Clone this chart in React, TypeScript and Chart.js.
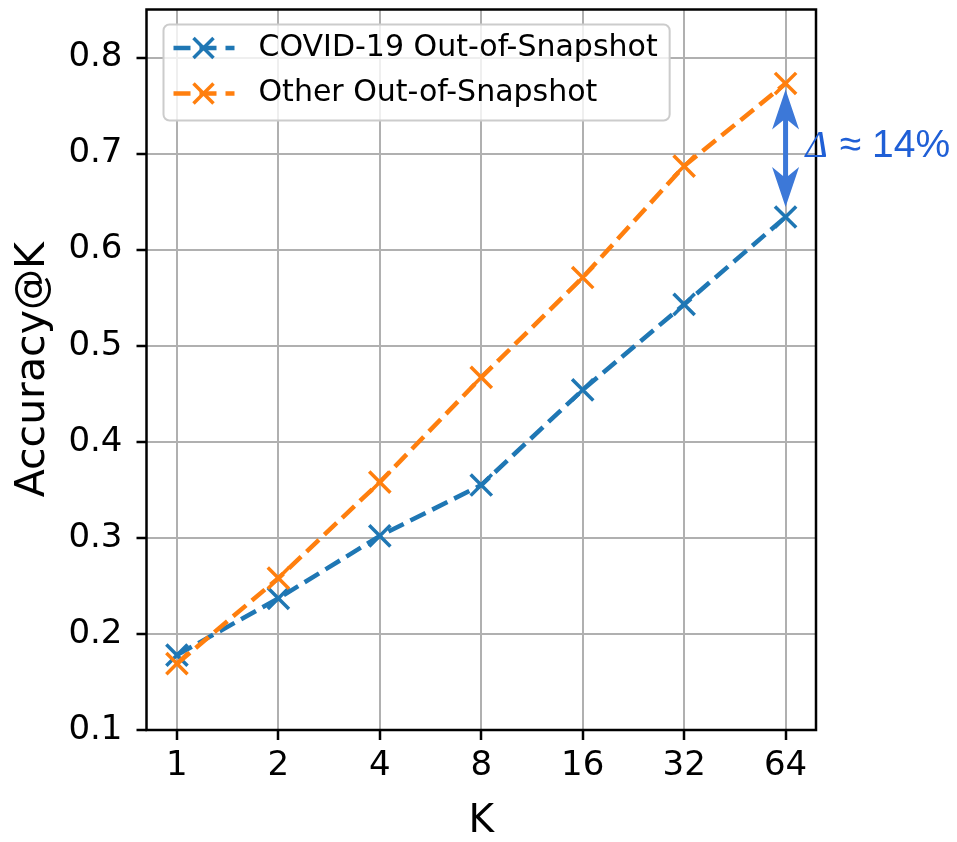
import { useEffect, useRef } from "react";
import { Chart, registerables } from "chart.js";

Chart.register(...registerables);

// ---- data ----
const kLabels = ["1", "2", "4", "8", "16", "32", "64"];
const covidAcc = [0.178, 0.237, 0.302, 0.355, 0.454, 0.543, 0.634];
const otherAcc = [0.169, 0.258, 0.358, 0.467, 0.571, 0.687, 0.773];
const yTicks = [0.1, 0.2, 0.3, 0.4, 0.5, 0.6, 0.7, 0.8];
const seriesNames = ["COVID-19 Out-of-Snapshot", "Other Out-of-Snapshot"];
const seriesColors = ["#1f77b4", "#ff7f0e"];
const deltaSymbol = "Δ";
const deltaLabel = "≈ 14%";
const xTitle = "K";
const yTitle = "Accuracy@K";

const FONT = "'DejaVu Sans', sans-serif";
const DASH = [17, 7.5];
const LINE_W = 4.5;

const decorPlugin = {
  id: "decor",
  afterDraw(chart: any) {
    const { ctx, chartArea: ca, scales } = chart;
    const xs = scales.x;
    const ys = scales.y;
    ctx.save();
    // spines
    ctx.strokeStyle = "#000";
    ctx.lineWidth = 2.5;
    ctx.setLineDash([]);
    ctx.strokeRect(ca.left, ca.top, ca.right - ca.left, ca.bottom - ca.top);

    // legend
    ctx.font = `30px ${FONT}`;
    const lx = ca.left + 17;
    const ly = ca.top + 15;
    const rowH = 45.5;
    const textX = lx + 95;
    let maxW = 0;
    seriesNames.forEach((n) => (maxW = Math.max(maxW, ctx.measureText(n).width)));
    const bw = textX - lx + maxW + 12;
    const bh = 96;
    const r = 6;
    ctx.beginPath();
    ctx.moveTo(lx + r, ly);
    ctx.lineTo(lx + bw - r, ly);
    ctx.arcTo(lx + bw, ly, lx + bw, ly + r, r);
    ctx.lineTo(lx + bw, ly + bh - r);
    ctx.arcTo(lx + bw, ly + bh, lx + bw - r, ly + bh, r);
    ctx.lineTo(lx + r, ly + bh);
    ctx.arcTo(lx, ly + bh, lx, ly + bh - r, r);
    ctx.lineTo(lx, ly + r);
    ctx.arcTo(lx, ly, lx + r, ly, r);
    ctx.closePath();
    ctx.fillStyle = "rgba(255,255,255,0.8)";
    ctx.fill();
    ctx.strokeStyle = "#cccccc";
    ctx.lineWidth = 2;
    ctx.stroke();
    seriesNames.forEach((name, i) => {
      const cy = ly + 23.5 + i * rowH;
      const col = seriesColors[i];
      ctx.strokeStyle = col;
      ctx.lineWidth = LINE_W;
      ctx.setLineDash([17, 9]);
      ctx.beginPath();
      ctx.moveTo(lx + 10, cy);
      ctx.lineTo(lx + 71, cy);
      ctx.stroke();
      ctx.setLineDash([]);
      const mx = lx + 40;
      const d = 10;
      ctx.lineWidth = 3.5;
      ctx.beginPath();
      ctx.moveTo(mx - d, cy - d);
      ctx.lineTo(mx + d, cy + d);
      ctx.moveTo(mx - d, cy + d);
      ctx.lineTo(mx + d, cy - d);
      ctx.stroke();
      ctx.fillStyle = "#000";
      ctx.textAlign = "left";
      ctx.textBaseline = "middle";
      ctx.fillText(name, textX, cy);
    });

    // delta annotation
    const n = kLabels.length - 1;
    const ax = xs.getPixelForValue(n);
    const yT = ys.getPixelForValue(otherAcc[n]) + 6;
    const yB = ys.getPixelForValue(covidAcc[n]) - 10;
    const hl = 40, hw = 13.5, notch = 9, sw = 5;
    ctx.fillStyle = "#3c78d8";
    ctx.beginPath();
    ctx.moveTo(ax, yT);
    ctx.lineTo(ax + hw, yT + hl);
    ctx.lineTo(ax + sw / 2, yT + hl - notch);
    ctx.lineTo(ax + sw / 2, yB - hl + notch);
    ctx.lineTo(ax + hw, yB - hl);
    ctx.lineTo(ax, yB);
    ctx.lineTo(ax - hw, yB - hl);
    ctx.lineTo(ax - sw / 2, yB - hl + notch);
    ctx.lineTo(ax - sw / 2, yT + hl - notch);
    ctx.lineTo(ax - hw, yT + hl);
    ctx.closePath();
    ctx.fill();
    ctx.fillStyle = "#1f5fd6";
    ctx.textAlign = "left";
    ctx.textBaseline = "alphabetic";
    const by = (yT + yB) / 2 + 9;
    ctx.font = `italic 38px 'Liberation Serif', serif`;
    const tx = ax + 20;
    ctx.fillText(deltaSymbol, tx, by);
    const dw = ctx.measureText(deltaSymbol).width;
    ctx.font = `39px 'Liberation Sans', Arial, sans-serif`;
    ctx.fillText(deltaLabel, tx + dw + 12, by);
    ctx.restore();
  },
};

export default function App() {
  const ref = useRef<HTMLCanvasElement | null>(null);
  useEffect(() => {
    if (!ref.current) return;
    const mk = (vals: number[]) => vals.map((v, i) => ({ x: i, y: v }));
    const ds = (i: number, vals: number[], order: number) => ({
      label: seriesNames[i],
      data: mk(vals),
      borderColor: seriesColors[i],
      backgroundColor: seriesColors[i],
      borderWidth: LINE_W,
      borderDash: DASH,
      pointStyle: "crossRot",
      pointRadius: 15,
      pointBorderWidth: 3.5,
      pointBorderColor: seriesColors[i],
      tension: 0,
      fill: false,
      order,
    });
    const chart = new Chart(ref.current, {
      type: "line",
      data: {
        datasets: [ds(0, covidAcc, 1), ds(1, otherAcc, 0)] as any,
      },
      options: {
        animation: false,
        responsive: false,
        devicePixelRatio: 1,
        layout: { autoPadding: false, padding: { top: 9.5, right: 141, left: 0, bottom: 0 } },
        plugins: {
          legend: { display: false },
          tooltip: { enabled: false },
        },
        scales: {
          x: {
            type: "linear",
            min: -0.3,
            max: kLabels.length - 1 + 0.3,
            afterBuildTicks: (s: any) => {
              s.ticks = kLabels.map((_, i) => ({ value: i }));
            },
            afterFit: (s: any) => {
              s.height = 112;
              s.paddingLeft = 0;
              s.paddingRight = 0;
            },
            ticks: {
              callback: (v: any) => kLabels[v as number] ?? "",
              font: { family: FONT, size: 34 },
              color: "#000",
              padding: 6,
              maxRotation: 0,
              autoSkip: false,
            },
            grid: {
              color: "#b0b0b0",
              lineWidth: 2,
              tickColor: "#000",
              tickWidth: 2.5,
              tickLength: 10,
            } as any,
            border: { display: false },
            title: {
              display: true,
              text: xTitle,
              font: { family: FONT, size: 39 },
              color: "#000",
              padding: { top: 0, bottom: -3 },
            },
          },
          y: {
            type: "linear",
            min: 0.1,
            max: 0.85,
            afterBuildTicks: (s: any) => {
              s.ticks = yTicks.map((v) => ({ value: v }));
            },
            afterFit: (s: any) => {
              s.width = 146.5;
              s.paddingTop = 0;
              s.paddingBottom = 0;
            },
            ticks: {
              callback: (v: any) => Number(v).toFixed(1),
              font: { family: FONT, size: 34 },
              color: "#000",
              padding: 14,
            },
            grid: {
              color: "#b0b0b0",
              lineWidth: 2,
              tickColor: "#000",
              tickWidth: 2.5,
              tickLength: 10,
            } as any,
            border: { display: false },
            title: {
              display: true,
              text: yTitle,
              font: { family: FONT, size: 41 },
              color: "#000",
              padding: { top: 9, bottom: 0 },
            },
          },
        },
      },
      plugins: [decorPlugin],
    });
    return () => chart.destroy();
  }, []);
  return (
    <div style={{ position: "fixed", left: 0, top: 0, width: 957, height: 842, background: "#fff" }}>
      <canvas ref={ref} width={957} height={842} style={{ display: "block" }} />
    </div>
  );
}
